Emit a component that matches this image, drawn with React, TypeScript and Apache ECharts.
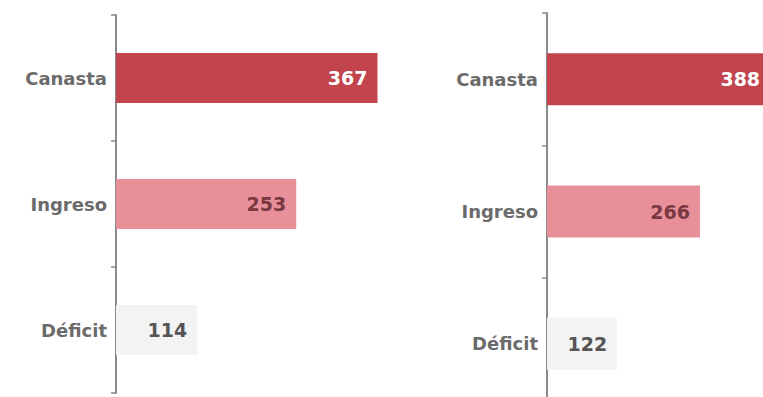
import React, { useEffect, useRef } from "react";
import * as echarts from "echarts";

const categories = ["Canasta", "Ingreso", "Déficit"];
const leftValues = [367, 253, 114];
const rightValues = [388, 266, 122];

const barColors = ["#c2454d", "#e8909a", "#f3f3f3"];
const labelColors = ["#ffffff", "#7a3842", "#555555"];

const FONT = "DejaVu Sans";

function seriesData(values: number[]) {
  return values.map((v, i) => ({
    value: v,
    itemStyle: { color: barColors[i] },
    label: { color: labelColors[i] },
  }));
}

export default function App() {
  const ref = useRef<HTMLDivElement>(null);
  useEffect(() => {
    if (!ref.current) return;
    const chart = echarts.init(ref.current, null, { renderer: "svg" });
    const yAxisBase = {
      type: "category" as const,
      data: categories,
      inverse: true,
      axisLine: { show: true, lineStyle: { color: "#8a8a8a", width: 2 } },
      axisTick: { show: true, length: 5, lineStyle: { color: "#8a8a8a", width: 1.5 } },
      axisLabel: {
        color: "#6b6b6b",
        fontFamily: FONT,
        fontWeight: "bold" as const,
        fontSize: 18,
        margin: 9,
      },
    };
    const xAxisBase = {
      type: "value" as const,
      min: 0,
      max: 400,
      show: false,
      splitLine: { show: false },
    };
    const labelBase = {
      show: true,
      position: "insideRight" as const,
      distance: 10,
      fontFamily: FONT,
      fontWeight: "bold" as const,
      fontSize: 19,
    };
    chart.setOption({
      animation: false,
      backgroundColor: "#ffffff",
      grid: [
        { left: 116, top: 15, width: 285, height: 378 },
        { left: 547, top: 13, width: 230, height: 397 },
      ],
      xAxis: [
        { ...xAxisBase, gridIndex: 0 },
        { ...xAxisBase, gridIndex: 1 },
      ],
      yAxis: [
        { ...yAxisBase, gridIndex: 0 },
        { ...yAxisBase, gridIndex: 1 },
      ],
      series: [
        {
          type: "bar",
          xAxisIndex: 0,
          yAxisIndex: 0,
          barWidth: 50,
          data: seriesData(leftValues),
          label: labelBase,
        },
        {
          type: "bar",
          xAxisIndex: 1,
          yAxisIndex: 1,
          barWidth: 52,
          data: seriesData(rightValues),
          label: labelBase,
        },
      ],
    });
    return () => chart.dispose();
  }, []);
  return (
    <div
      ref={ref}
      style={{ position: "fixed", left: 0, top: 0, width: 800, height: 420 }}
    />
  );
}
